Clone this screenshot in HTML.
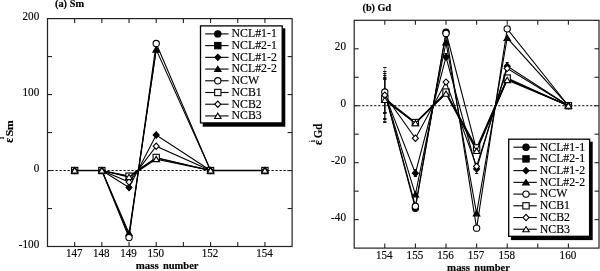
<!DOCTYPE html>
<html><head><meta charset="utf-8"><title>Sm and Gd isotopic shifts</title>
<style>
html,body{margin:0;padding:0;background:#fff;}
body{width:600px;height:271px;overflow:hidden;}
svg{display:block;will-change:transform;font-family:'Liberation Serif', 'Times New Roman', serif;fill:#000;}
svg text{stroke:#000;stroke-width:0.16px;fill:#000;}
</style></head><body>
<svg width="600" height="271" viewBox="0 0 600 271">
<rect width="600" height="271" fill="#fff"/>
<line x1="47.50" y1="170.53" x2="292.10" y2="170.53" stroke="#000" stroke-width="1" stroke-dasharray="2.2 1.8"/>
<line x1="74.68" y1="170.53" x2="101.86" y2="170.53" stroke="#000" stroke-width="1.45"/>
<line x1="210.57" y1="170.53" x2="264.92" y2="170.53" stroke="#000" stroke-width="1.45"/>
<path d="M74.68 170.53L101.86 170.53L129.03 235.48L156.21 49.59L210.57 170.53L264.92 170.53" fill="none" stroke="#000" stroke-width="1.08" stroke-linejoin="miter"/>
<path d="M101.86 170.53L129.03 176.53L156.21 158.07L210.57 170.53" fill="none" stroke="#000" stroke-width="1.08" stroke-linejoin="miter"/>
<path d="M101.86 170.53L129.03 187.55L156.21 134.98L210.57 170.53" fill="none" stroke="#000" stroke-width="1.08" stroke-linejoin="miter"/>
<path d="M126.03 187.55L129.03 184.40L132.03 187.55L129.03 190.70Z" fill="#000" stroke="#000" stroke-width="1.1" stroke-linejoin="miter"/>
<path d="M153.21 134.98L156.21 131.83L159.21 134.98L156.21 138.13Z" fill="#000" stroke="#000" stroke-width="1.1" stroke-linejoin="miter"/>
<path d="M101.86 170.53L129.03 233.21L156.21 49.59" fill="none" stroke="#000" stroke-width="1.08" stroke-linejoin="miter"/>
<path d="M125.78 235.71L129.03 230.41L132.28 235.71Z" fill="#000" stroke="#000" stroke-width="1.1" stroke-linejoin="miter"/>
<path d="M152.96 52.09L156.21 46.79L159.46 52.09Z" fill="#000" stroke="#000" stroke-width="1.1" stroke-linejoin="miter"/>
<path d="M101.86 170.53L129.03 237.61L156.21 43.52L210.57 170.53" fill="none" stroke="#000" stroke-width="1.08" stroke-linejoin="miter"/>
<circle cx="129.03" cy="237.61" r="3.15" fill="#fff" stroke="#000" stroke-width="1.1"/>
<circle cx="156.21" cy="43.52" r="3.15" fill="#fff" stroke="#000" stroke-width="1.1"/>
<path d="M101.86 170.53L129.03 176.15L156.21 157.47L210.57 170.53" fill="none" stroke="#000" stroke-width="1.08" stroke-linejoin="miter"/>
<rect x="71.53" y="167.38" width="6.30" height="6.30" fill="#fff" stroke="#000" stroke-width="1.1"/>
<rect x="98.71" y="167.38" width="6.30" height="6.30" fill="#fff" stroke="#000" stroke-width="1.1"/>
<rect x="125.88" y="173.00" width="6.30" height="6.30" fill="#fff" stroke="#000" stroke-width="1.1"/>
<rect x="153.06" y="154.32" width="6.30" height="6.30" fill="#fff" stroke="#000" stroke-width="1.1"/>
<rect x="207.42" y="167.38" width="6.30" height="6.30" fill="#fff" stroke="#000" stroke-width="1.1"/>
<rect x="261.77" y="167.38" width="6.30" height="6.30" fill="#fff" stroke="#000" stroke-width="1.1"/>
<path d="M101.86 170.53L129.03 182.08L156.21 146.22L210.57 170.53" fill="none" stroke="#000" stroke-width="1.08" stroke-linejoin="miter"/>
<path d="M71.68 170.53L74.68 167.38L77.68 170.53L74.68 173.68Z" fill="#fff" stroke="#000" stroke-width="1.1" stroke-linejoin="miter"/>
<path d="M98.86 170.53L101.86 167.38L104.86 170.53L101.86 173.68Z" fill="#fff" stroke="#000" stroke-width="1.1" stroke-linejoin="miter"/>
<path d="M126.03 182.08L129.03 178.93L132.03 182.08L129.03 185.23Z" fill="#fff" stroke="#000" stroke-width="1.1" stroke-linejoin="miter"/>
<path d="M153.21 146.22L156.21 143.07L159.21 146.22L156.21 149.37Z" fill="#fff" stroke="#000" stroke-width="1.1" stroke-linejoin="miter"/>
<path d="M207.57 170.53L210.57 167.38L213.57 170.53L210.57 173.68Z" fill="#fff" stroke="#000" stroke-width="1.1" stroke-linejoin="miter"/>
<path d="M261.92 170.53L264.92 167.38L267.92 170.53L264.92 173.68Z" fill="#fff" stroke="#000" stroke-width="1.1" stroke-linejoin="miter"/>
<path d="M101.86 170.53L129.03 177.07L156.21 159.14L210.57 170.53" fill="none" stroke="#000" stroke-width="1.08" stroke-linejoin="miter"/>
<path d="M71.43 173.03L74.68 167.73L77.93 173.03Z" fill="#fff" stroke="#000" stroke-width="1.1" stroke-linejoin="miter"/>
<path d="M98.61 173.03L101.86 167.73L105.11 173.03Z" fill="#fff" stroke="#000" stroke-width="1.1" stroke-linejoin="miter"/>
<path d="M125.78 179.57L129.03 174.27L132.28 179.57Z" fill="#fff" stroke="#000" stroke-width="1.1" stroke-linejoin="miter"/>
<path d="M152.96 161.64L156.21 156.34L159.46 161.64Z" fill="#fff" stroke="#000" stroke-width="1.1" stroke-linejoin="miter"/>
<path d="M207.32 173.03L210.57 167.73L213.82 173.03Z" fill="#fff" stroke="#000" stroke-width="1.1" stroke-linejoin="miter"/>
<path d="M261.67 173.03L264.92 167.73L268.17 173.03Z" fill="#fff" stroke="#000" stroke-width="1.1" stroke-linejoin="miter"/>
<rect x="47.50" y="18.60" width="244.60" height="227.90" fill="none" stroke="#222" stroke-width="1.2"/>
<line x1="74.68" y1="18.60" x2="74.68" y2="23.10" stroke="#222" stroke-width="1.1"/>
<line x1="74.68" y1="246.50" x2="74.68" y2="242.00" stroke="#222" stroke-width="1.1"/>
<line x1="101.86" y1="18.60" x2="101.86" y2="23.10" stroke="#222" stroke-width="1.1"/>
<line x1="101.86" y1="246.50" x2="101.86" y2="242.00" stroke="#222" stroke-width="1.1"/>
<line x1="129.03" y1="18.60" x2="129.03" y2="23.10" stroke="#222" stroke-width="1.1"/>
<line x1="129.03" y1="246.50" x2="129.03" y2="242.00" stroke="#222" stroke-width="1.1"/>
<line x1="156.21" y1="18.60" x2="156.21" y2="23.10" stroke="#222" stroke-width="1.1"/>
<line x1="156.21" y1="246.50" x2="156.21" y2="242.00" stroke="#222" stroke-width="1.1"/>
<line x1="183.39" y1="18.60" x2="183.39" y2="23.10" stroke="#222" stroke-width="1.1"/>
<line x1="183.39" y1="246.50" x2="183.39" y2="242.00" stroke="#222" stroke-width="1.1"/>
<line x1="210.57" y1="18.60" x2="210.57" y2="23.10" stroke="#222" stroke-width="1.1"/>
<line x1="210.57" y1="246.50" x2="210.57" y2="242.00" stroke="#222" stroke-width="1.1"/>
<line x1="237.74" y1="18.60" x2="237.74" y2="23.10" stroke="#222" stroke-width="1.1"/>
<line x1="237.74" y1="246.50" x2="237.74" y2="242.00" stroke="#222" stroke-width="1.1"/>
<line x1="264.92" y1="18.60" x2="264.92" y2="23.10" stroke="#222" stroke-width="1.1"/>
<line x1="264.92" y1="246.50" x2="264.92" y2="242.00" stroke="#222" stroke-width="1.1"/>
<line x1="47.50" y1="208.52" x2="52.00" y2="208.52" stroke="#222" stroke-width="1.1"/>
<line x1="292.10" y1="208.52" x2="287.60" y2="208.52" stroke="#222" stroke-width="1.1"/>
<line x1="47.50" y1="170.53" x2="52.00" y2="170.53" stroke="#222" stroke-width="1.1"/>
<line x1="292.10" y1="170.53" x2="287.60" y2="170.53" stroke="#222" stroke-width="1.1"/>
<line x1="47.50" y1="132.55" x2="52.00" y2="132.55" stroke="#222" stroke-width="1.1"/>
<line x1="292.10" y1="132.55" x2="287.60" y2="132.55" stroke="#222" stroke-width="1.1"/>
<line x1="47.50" y1="94.57" x2="52.00" y2="94.57" stroke="#222" stroke-width="1.1"/>
<line x1="292.10" y1="94.57" x2="287.60" y2="94.57" stroke="#222" stroke-width="1.1"/>
<line x1="47.50" y1="56.58" x2="52.00" y2="56.58" stroke="#222" stroke-width="1.1"/>
<line x1="292.10" y1="56.58" x2="287.60" y2="56.58" stroke="#222" stroke-width="1.1"/>
<text transform="translate(74.18,256.80) scale(0.825,1)" font-size="13.4px" text-anchor="middle">147</text>
<text transform="translate(101.36,256.80) scale(0.825,1)" font-size="13.4px" text-anchor="middle">148</text>
<text transform="translate(128.53,256.80) scale(0.825,1)" font-size="13.4px" text-anchor="middle">149</text>
<text transform="translate(155.71,256.80) scale(0.825,1)" font-size="13.4px" text-anchor="middle">150</text>
<text transform="translate(210.07,256.80) scale(0.825,1)" font-size="13.4px" text-anchor="middle">152</text>
<text transform="translate(264.42,256.80) scale(0.825,1)" font-size="13.4px" text-anchor="middle">154</text>
<text transform="translate(39.30,248.10) scale(0.835,1)" font-size="13.4px" text-anchor="end">-100</text>
<text transform="translate(39.30,172.13) scale(0.835,1)" font-size="13.4px" text-anchor="end">0</text>
<text transform="translate(39.30,96.17) scale(0.835,1)" font-size="13.4px" text-anchor="end">100</text>
<text transform="translate(39.30,20.20) scale(0.835,1)" font-size="13.4px" text-anchor="end">200</text>
<rect x="202.70" y="28.30" width="82.60" height="98.40" fill="#000"/>
<rect x="200.50" y="25.90" width="81.70" height="97.00" fill="#fff" stroke="#000" stroke-width="1.3"/>
<line x1="205.20" y1="33.90" x2="228.60" y2="33.90" stroke="#000" stroke-width="1.1"/>
<circle cx="217.80" cy="33.90" r="3.15" fill="#000" stroke="#000" stroke-width="1.1"/>
<text transform="translate(231.50,37.30) scale(0.94,1)" font-size="12.6px" text-anchor="start">NCL#1-1</text>
<line x1="205.20" y1="45.62" x2="228.60" y2="45.62" stroke="#000" stroke-width="1.1"/>
<rect x="214.65" y="42.47" width="6.30" height="6.30" fill="#000" stroke="#000" stroke-width="1.1"/>
<text transform="translate(231.50,49.02) scale(0.94,1)" font-size="12.6px" text-anchor="start">NCL#2-1</text>
<line x1="205.20" y1="57.34" x2="228.60" y2="57.34" stroke="#000" stroke-width="1.1"/>
<path d="M214.80 57.34L217.80 54.19L220.80 57.34L217.80 60.49Z" fill="#000" stroke="#000" stroke-width="1.1" stroke-linejoin="miter"/>
<text transform="translate(231.50,60.74) scale(0.94,1)" font-size="12.6px" text-anchor="start">NCL#1-2</text>
<line x1="205.20" y1="69.06" x2="228.60" y2="69.06" stroke="#000" stroke-width="1.1"/>
<path d="M214.55 71.56L217.80 66.26L221.05 71.56Z" fill="#000" stroke="#000" stroke-width="1.1" stroke-linejoin="miter"/>
<text transform="translate(231.50,72.46) scale(0.94,1)" font-size="12.6px" text-anchor="start">NCL#2-2</text>
<line x1="205.20" y1="80.78" x2="228.60" y2="80.78" stroke="#000" stroke-width="1.1"/>
<circle cx="217.80" cy="80.78" r="3.15" fill="#fff" stroke="#000" stroke-width="1.1"/>
<text transform="translate(231.50,84.18) scale(0.94,1)" font-size="12.6px" text-anchor="start">NCW</text>
<line x1="205.20" y1="92.50" x2="228.60" y2="92.50" stroke="#000" stroke-width="1.1"/>
<rect x="214.65" y="89.35" width="6.30" height="6.30" fill="#fff" stroke="#000" stroke-width="1.1"/>
<text transform="translate(231.50,95.90) scale(0.94,1)" font-size="12.6px" text-anchor="start">NCB1</text>
<line x1="205.20" y1="104.22" x2="228.60" y2="104.22" stroke="#000" stroke-width="1.1"/>
<path d="M214.80 104.22L217.80 101.07L220.80 104.22L217.80 107.37Z" fill="#fff" stroke="#000" stroke-width="1.1" stroke-linejoin="miter"/>
<text transform="translate(231.50,107.62) scale(0.94,1)" font-size="12.6px" text-anchor="start">NCB2</text>
<line x1="205.20" y1="115.94" x2="228.60" y2="115.94" stroke="#000" stroke-width="1.1"/>
<path d="M214.55 118.44L217.80 113.14L221.05 118.44Z" fill="#fff" stroke="#000" stroke-width="1.1" stroke-linejoin="miter"/>
<text transform="translate(231.50,119.34) scale(0.94,1)" font-size="12.6px" text-anchor="start">NCB3</text>
<text x="55" y="7.2" font-size="9.6px" font-weight="bold" textLength="29" lengthAdjust="spacingAndGlyphs">(a) Sm</text>
<text x="135.7" y="269.1" font-size="11.2px" font-weight="bold" textLength="23" lengthAdjust="spacingAndGlyphs">mass</text>
<text x="162.9" y="269.1" font-size="11.2px" font-weight="bold" textLength="35.6" lengthAdjust="spacingAndGlyphs">number</text>
<text transform="translate(12.6,142.8) rotate(-90) scale(0.9,1)" font-size="12.5px" font-weight="bold">ε</text>
<text transform="translate(4.2,138.9) rotate(-90)" font-size="8px">i</text>
<text transform="translate(12.6,136.3) rotate(-90) scale(1.05,1)" font-size="11px" font-weight="bold">Sm</text>
<line x1="354.20" y1="105.73" x2="599.00" y2="105.73" stroke="#000" stroke-width="1" stroke-dasharray="2.2 1.8"/>
<line x1="384.80" y1="67.50" x2="384.80" y2="122.50" stroke="#000" stroke-width="0.45"/>
<line x1="383.10" y1="67.50" x2="386.50" y2="67.50" stroke="#000" stroke-width="0.9"/>
<line x1="383.10" y1="122.50" x2="386.50" y2="122.50" stroke="#000" stroke-width="0.9"/>
<line x1="384.80" y1="71.50" x2="384.80" y2="121.70" stroke="#000" stroke-width="0.45"/>
<line x1="383.10" y1="71.50" x2="386.50" y2="71.50" stroke="#000" stroke-width="0.9"/>
<line x1="383.10" y1="121.70" x2="386.50" y2="121.70" stroke="#000" stroke-width="0.9"/>
<line x1="384.80" y1="73.50" x2="384.80" y2="119.50" stroke="#000" stroke-width="0.45"/>
<line x1="383.10" y1="73.50" x2="386.50" y2="73.50" stroke="#000" stroke-width="0.9"/>
<line x1="383.10" y1="119.50" x2="386.50" y2="119.50" stroke="#000" stroke-width="0.9"/>
<line x1="384.80" y1="75.50" x2="384.80" y2="118.50" stroke="#000" stroke-width="0.45"/>
<line x1="383.10" y1="75.50" x2="386.50" y2="75.50" stroke="#000" stroke-width="0.9"/>
<line x1="383.10" y1="118.50" x2="386.50" y2="118.50" stroke="#000" stroke-width="0.9"/>
<line x1="384.80" y1="77.50" x2="384.80" y2="113.50" stroke="#000" stroke-width="0.45"/>
<line x1="383.10" y1="77.50" x2="386.50" y2="77.50" stroke="#000" stroke-width="0.9"/>
<line x1="383.10" y1="113.50" x2="386.50" y2="113.50" stroke="#000" stroke-width="0.9"/>
<line x1="384.80" y1="78.50" x2="384.80" y2="112.50" stroke="#000" stroke-width="0.45"/>
<line x1="383.10" y1="78.50" x2="386.50" y2="78.50" stroke="#000" stroke-width="0.9"/>
<line x1="383.10" y1="112.50" x2="386.50" y2="112.50" stroke="#000" stroke-width="0.9"/>
<line x1="384.80" y1="79.50" x2="384.80" y2="112.50" stroke="#000" stroke-width="0.45"/>
<line x1="383.10" y1="79.50" x2="386.50" y2="79.50" stroke="#000" stroke-width="0.9"/>
<line x1="383.10" y1="112.50" x2="386.50" y2="112.50" stroke="#000" stroke-width="0.9"/>
<line x1="476.60" y1="163.50" x2="476.60" y2="173.50" stroke="#000" stroke-width="0.45"/>
<line x1="475.00" y1="163.50" x2="478.20" y2="163.50" stroke="#000" stroke-width="0.9"/>
<line x1="475.00" y1="173.50" x2="478.20" y2="173.50" stroke="#000" stroke-width="0.9"/>
<line x1="507.20" y1="62.50" x2="507.20" y2="69.50" stroke="#000" stroke-width="0.45"/>
<line x1="505.60" y1="62.50" x2="508.80" y2="62.50" stroke="#000" stroke-width="0.9"/>
<line x1="505.60" y1="69.50" x2="508.80" y2="69.50" stroke="#000" stroke-width="0.9"/>
<line x1="415.40" y1="169.50" x2="415.40" y2="176.50" stroke="#000" stroke-width="0.45"/>
<line x1="413.80" y1="169.50" x2="417.00" y2="169.50" stroke="#000" stroke-width="0.9"/>
<line x1="413.80" y1="176.50" x2="417.00" y2="176.50" stroke="#000" stroke-width="0.9"/>
<line x1="446.00" y1="53.50" x2="446.00" y2="59.50" stroke="#000" stroke-width="0.45"/>
<line x1="444.40" y1="53.50" x2="447.60" y2="53.50" stroke="#000" stroke-width="0.9"/>
<line x1="444.40" y1="59.50" x2="447.60" y2="59.50" stroke="#000" stroke-width="0.9"/>
<path d="M384.8 92.63L415.4 208.24L446.0 32.26L476.6 150.15L507.2 79.24L568.4 105.73" fill="none" stroke="#000" stroke-width="1.08" stroke-linejoin="miter"/>
<circle cx="415.40" cy="208.24" r="3.15" fill="#000" stroke="#000" stroke-width="1.1"/>
<circle cx="446.00" cy="32.26" r="3.15" fill="#000" stroke="#000" stroke-width="1.1"/>
<path d="M384.8 99.18L415.4 123.38L446.0 92.91L476.6 149.29L507.2 78.96L568.4 105.73" fill="none" stroke="#000" stroke-width="1.08" stroke-linejoin="miter"/>
<path d="M384.8 94.34L415.4 173.21L446.0 57.03L476.6 168.94L507.2 66.14L568.4 105.73" fill="none" stroke="#000" stroke-width="1.08" stroke-linejoin="miter"/>
<path d="M412.40 173.21L415.40 170.06L418.40 173.21L415.40 176.36Z" fill="#000" stroke="#000" stroke-width="1.1" stroke-linejoin="miter"/>
<path d="M443.00 57.03L446.00 53.88L449.00 57.03L446.00 60.18Z" fill="#000" stroke="#000" stroke-width="1.1" stroke-linejoin="miter"/>
<path d="M473.60 168.94L476.60 165.79L479.60 168.94L476.60 172.09Z" fill="#000" stroke="#000" stroke-width="1.1" stroke-linejoin="miter"/>
<path d="M504.20 66.14L507.20 62.99L510.20 66.14L507.20 69.29Z" fill="#000" stroke="#000" stroke-width="1.1" stroke-linejoin="miter"/>
<path d="M384.8 93.2L415.4 194.57L446.0 42.51L476.6 213.36L507.2 37.95L568.4 105.73" fill="none" stroke="#000" stroke-width="1.08" stroke-linejoin="miter"/>
<path d="M412.15 197.07L415.40 191.77L418.65 197.07Z" fill="#000" stroke="#000" stroke-width="1.1" stroke-linejoin="miter"/>
<path d="M442.75 45.01L446.00 39.71L449.25 45.01Z" fill="#000" stroke="#000" stroke-width="1.1" stroke-linejoin="miter"/>
<path d="M473.35 215.86L476.60 210.56L479.85 215.86Z" fill="#000" stroke="#000" stroke-width="1.1" stroke-linejoin="miter"/>
<path d="M503.95 40.45L507.20 35.15L510.45 40.45Z" fill="#000" stroke="#000" stroke-width="1.1" stroke-linejoin="miter"/>
<path d="M384.8 92.06L415.4 206.24L446.0 33.4L476.6 228.17L507.2 28.84L568.4 105.73" fill="none" stroke="#000" stroke-width="1.08" stroke-linejoin="miter"/>
<circle cx="384.80" cy="92.06" r="3.15" fill="#fff" stroke="#000" stroke-width="1.1"/>
<circle cx="415.40" cy="206.24" r="3.15" fill="#fff" stroke="#000" stroke-width="1.1"/>
<circle cx="446.00" cy="33.40" r="3.15" fill="#fff" stroke="#000" stroke-width="1.1"/>
<circle cx="476.60" cy="228.17" r="3.15" fill="#fff" stroke="#000" stroke-width="1.1"/>
<circle cx="507.20" cy="28.84" r="3.15" fill="#fff" stroke="#000" stroke-width="1.1"/>
<path d="M384.8 98.32L415.4 122.53L446.0 92.06L476.6 147.87L507.2 78.1L568.4 105.73" fill="none" stroke="#000" stroke-width="1.08" stroke-linejoin="miter"/>
<rect x="381.65" y="95.17" width="6.30" height="6.30" fill="#fff" stroke="#000" stroke-width="1.1"/>
<rect x="412.25" y="119.38" width="6.30" height="6.30" fill="#fff" stroke="#000" stroke-width="1.1"/>
<rect x="442.85" y="88.91" width="6.30" height="6.30" fill="#fff" stroke="#000" stroke-width="1.1"/>
<rect x="473.45" y="144.72" width="6.30" height="6.30" fill="#fff" stroke="#000" stroke-width="1.1"/>
<rect x="504.05" y="74.95" width="6.30" height="6.30" fill="#fff" stroke="#000" stroke-width="1.1"/>
<rect x="565.25" y="102.58" width="6.30" height="6.30" fill="#fff" stroke="#000" stroke-width="1.1"/>
<path d="M384.8 95.19L415.4 138.19L446.0 82.09L476.6 166.38L507.2 68.42L568.4 105.73" fill="none" stroke="#000" stroke-width="1.08" stroke-linejoin="miter"/>
<path d="M381.80 95.19L384.80 92.04L387.80 95.19L384.80 98.34Z" fill="#fff" stroke="#000" stroke-width="1.1" stroke-linejoin="miter"/>
<path d="M412.40 138.19L415.40 135.04L418.40 138.19L415.40 141.34Z" fill="#fff" stroke="#000" stroke-width="1.1" stroke-linejoin="miter"/>
<path d="M443.00 82.09L446.00 78.94L449.00 82.09L446.00 85.24Z" fill="#fff" stroke="#000" stroke-width="1.1" stroke-linejoin="miter"/>
<path d="M473.60 166.38L476.60 163.23L479.60 166.38L476.60 169.53Z" fill="#fff" stroke="#000" stroke-width="1.1" stroke-linejoin="miter"/>
<path d="M504.20 68.42L507.20 65.27L510.20 68.42L507.20 71.57Z" fill="#fff" stroke="#000" stroke-width="1.1" stroke-linejoin="miter"/>
<path d="M565.40 105.73L568.40 102.58L571.40 105.73L568.40 108.88Z" fill="#fff" stroke="#000" stroke-width="1.1" stroke-linejoin="miter"/>
<path d="M384.8 100.03L415.4 123.24L446.0 93.77L476.6 151.0L507.2 80.1L568.4 105.73" fill="none" stroke="#000" stroke-width="1.08" stroke-linejoin="miter"/>
<path d="M381.55 102.53L384.80 97.23L388.05 102.53Z" fill="#fff" stroke="#000" stroke-width="1.1" stroke-linejoin="miter"/>
<path d="M412.15 125.74L415.40 120.44L418.65 125.74Z" fill="#fff" stroke="#000" stroke-width="1.1" stroke-linejoin="miter"/>
<path d="M442.75 96.27L446.00 90.97L449.25 96.27Z" fill="#fff" stroke="#000" stroke-width="1.1" stroke-linejoin="miter"/>
<path d="M473.35 153.50L476.60 148.20L479.85 153.50Z" fill="#fff" stroke="#000" stroke-width="1.1" stroke-linejoin="miter"/>
<path d="M503.95 82.60L507.20 77.30L510.45 82.60Z" fill="#fff" stroke="#000" stroke-width="1.1" stroke-linejoin="miter"/>
<path d="M565.15 108.23L568.40 102.93L571.65 108.23Z" fill="#fff" stroke="#000" stroke-width="1.1" stroke-linejoin="miter"/>
<rect x="354.20" y="20.30" width="244.80" height="227.80" fill="none" stroke="#222" stroke-width="1.2"/>
<line x1="384.80" y1="20.30" x2="384.80" y2="24.80" stroke="#222" stroke-width="1.1"/>
<line x1="384.80" y1="248.10" x2="384.80" y2="243.60" stroke="#222" stroke-width="1.1"/>
<line x1="415.40" y1="20.30" x2="415.40" y2="24.80" stroke="#222" stroke-width="1.1"/>
<line x1="415.40" y1="248.10" x2="415.40" y2="243.60" stroke="#222" stroke-width="1.1"/>
<line x1="446.00" y1="20.30" x2="446.00" y2="24.80" stroke="#222" stroke-width="1.1"/>
<line x1="446.00" y1="248.10" x2="446.00" y2="243.60" stroke="#222" stroke-width="1.1"/>
<line x1="476.60" y1="20.30" x2="476.60" y2="24.80" stroke="#222" stroke-width="1.1"/>
<line x1="476.60" y1="248.10" x2="476.60" y2="243.60" stroke="#222" stroke-width="1.1"/>
<line x1="507.20" y1="20.30" x2="507.20" y2="24.80" stroke="#222" stroke-width="1.1"/>
<line x1="507.20" y1="248.10" x2="507.20" y2="243.60" stroke="#222" stroke-width="1.1"/>
<line x1="537.80" y1="20.30" x2="537.80" y2="24.80" stroke="#222" stroke-width="1.1"/>
<line x1="537.80" y1="248.10" x2="537.80" y2="243.60" stroke="#222" stroke-width="1.1"/>
<line x1="568.40" y1="20.30" x2="568.40" y2="24.80" stroke="#222" stroke-width="1.1"/>
<line x1="568.40" y1="248.10" x2="568.40" y2="243.60" stroke="#222" stroke-width="1.1"/>
<line x1="354.20" y1="219.62" x2="358.70" y2="219.62" stroke="#222" stroke-width="1.1"/>
<line x1="599.00" y1="219.62" x2="594.50" y2="219.62" stroke="#222" stroke-width="1.1"/>
<line x1="354.20" y1="191.15" x2="358.70" y2="191.15" stroke="#222" stroke-width="1.1"/>
<line x1="599.00" y1="191.15" x2="594.50" y2="191.15" stroke="#222" stroke-width="1.1"/>
<line x1="354.20" y1="162.68" x2="358.70" y2="162.68" stroke="#222" stroke-width="1.1"/>
<line x1="599.00" y1="162.68" x2="594.50" y2="162.68" stroke="#222" stroke-width="1.1"/>
<line x1="354.20" y1="134.20" x2="358.70" y2="134.20" stroke="#222" stroke-width="1.1"/>
<line x1="599.00" y1="134.20" x2="594.50" y2="134.20" stroke="#222" stroke-width="1.1"/>
<line x1="354.20" y1="105.73" x2="358.70" y2="105.73" stroke="#222" stroke-width="1.1"/>
<line x1="599.00" y1="105.73" x2="594.50" y2="105.73" stroke="#222" stroke-width="1.1"/>
<line x1="354.20" y1="77.25" x2="358.70" y2="77.25" stroke="#222" stroke-width="1.1"/>
<line x1="599.00" y1="77.25" x2="594.50" y2="77.25" stroke="#222" stroke-width="1.1"/>
<line x1="354.20" y1="48.78" x2="358.70" y2="48.78" stroke="#222" stroke-width="1.1"/>
<line x1="599.00" y1="48.78" x2="594.50" y2="48.78" stroke="#222" stroke-width="1.1"/>
<text transform="translate(384.30,258.90) scale(0.825,1)" font-size="13.4px" text-anchor="middle">154</text>
<text transform="translate(414.90,258.90) scale(0.825,1)" font-size="13.4px" text-anchor="middle">155</text>
<text transform="translate(445.50,258.90) scale(0.825,1)" font-size="13.4px" text-anchor="middle">156</text>
<text transform="translate(476.10,258.90) scale(0.825,1)" font-size="13.4px" text-anchor="middle">157</text>
<text transform="translate(506.70,258.90) scale(0.825,1)" font-size="13.4px" text-anchor="middle">158</text>
<text transform="translate(567.90,258.90) scale(0.825,1)" font-size="13.4px" text-anchor="middle">160</text>
<text transform="translate(346.00,221.22) scale(0.835,1)" font-size="13.4px" text-anchor="end">-40</text>
<text transform="translate(346.00,164.28) scale(0.835,1)" font-size="13.4px" text-anchor="end">-20</text>
<text transform="translate(346.00,107.33) scale(0.835,1)" font-size="13.4px" text-anchor="end">0</text>
<text transform="translate(346.00,50.38) scale(0.835,1)" font-size="13.4px" text-anchor="end">20</text>
<rect x="510.90" y="141.60" width="81.80" height="98.50" fill="#000"/>
<rect x="508.70" y="139.20" width="80.90" height="97.10" fill="#fff" stroke="#000" stroke-width="1.3"/>
<line x1="513.40" y1="147.20" x2="536.80" y2="147.20" stroke="#000" stroke-width="1.1"/>
<circle cx="526.00" cy="147.20" r="3.15" fill="#000" stroke="#000" stroke-width="1.1"/>
<text transform="translate(539.70,150.60) scale(0.94,1)" font-size="12.6px" text-anchor="start">NCL#1-1</text>
<line x1="513.40" y1="158.92" x2="536.80" y2="158.92" stroke="#000" stroke-width="1.1"/>
<rect x="522.85" y="155.77" width="6.30" height="6.30" fill="#000" stroke="#000" stroke-width="1.1"/>
<text transform="translate(539.70,162.32) scale(0.94,1)" font-size="12.6px" text-anchor="start">NCL#2-1</text>
<line x1="513.40" y1="170.64" x2="536.80" y2="170.64" stroke="#000" stroke-width="1.1"/>
<path d="M523.00 170.64L526.00 167.49L529.00 170.64L526.00 173.79Z" fill="#000" stroke="#000" stroke-width="1.1" stroke-linejoin="miter"/>
<text transform="translate(539.70,174.04) scale(0.94,1)" font-size="12.6px" text-anchor="start">NCL#1-2</text>
<line x1="513.40" y1="182.36" x2="536.80" y2="182.36" stroke="#000" stroke-width="1.1"/>
<path d="M522.75 184.86L526.00 179.56L529.25 184.86Z" fill="#000" stroke="#000" stroke-width="1.1" stroke-linejoin="miter"/>
<text transform="translate(539.70,185.76) scale(0.94,1)" font-size="12.6px" text-anchor="start">NCL#2-2</text>
<line x1="513.40" y1="194.08" x2="536.80" y2="194.08" stroke="#000" stroke-width="1.1"/>
<circle cx="526.00" cy="194.08" r="3.15" fill="#fff" stroke="#000" stroke-width="1.1"/>
<text transform="translate(539.70,197.48) scale(0.94,1)" font-size="12.6px" text-anchor="start">NCW</text>
<line x1="513.40" y1="205.80" x2="536.80" y2="205.80" stroke="#000" stroke-width="1.1"/>
<rect x="522.85" y="202.65" width="6.30" height="6.30" fill="#fff" stroke="#000" stroke-width="1.1"/>
<text transform="translate(539.70,209.20) scale(0.94,1)" font-size="12.6px" text-anchor="start">NCB1</text>
<line x1="513.40" y1="217.52" x2="536.80" y2="217.52" stroke="#000" stroke-width="1.1"/>
<path d="M523.00 217.52L526.00 214.37L529.00 217.52L526.00 220.67Z" fill="#fff" stroke="#000" stroke-width="1.1" stroke-linejoin="miter"/>
<text transform="translate(539.70,220.92) scale(0.94,1)" font-size="12.6px" text-anchor="start">NCB2</text>
<line x1="513.40" y1="229.24" x2="536.80" y2="229.24" stroke="#000" stroke-width="1.1"/>
<path d="M522.75 231.74L526.00 226.44L529.25 231.74Z" fill="#fff" stroke="#000" stroke-width="1.1" stroke-linejoin="miter"/>
<text transform="translate(539.70,232.64) scale(0.94,1)" font-size="12.6px" text-anchor="start">NCB3</text>
<text x="362.5" y="10.8" font-size="9.8px" font-weight="bold" textLength="28.7" lengthAdjust="spacingAndGlyphs">(b) Gd</text>
<text x="447.1" y="270.9" font-size="11.2px" font-weight="bold" textLength="23" lengthAdjust="spacingAndGlyphs">mass</text>
<text x="474.3" y="270.9" font-size="11.2px" font-weight="bold" textLength="35.6" lengthAdjust="spacingAndGlyphs">number</text>
<text transform="translate(322.3,145) rotate(-90) scale(0.88,1)" font-size="13px" font-weight="bold">ε</text>
<text transform="translate(314.5,142.2) rotate(-90)" font-size="8px">i</text>
<text transform="translate(322.3,138.2) rotate(-90) scale(0.83,1)" font-size="13px" font-weight="bold">Gd</text>
</svg></body></html>
